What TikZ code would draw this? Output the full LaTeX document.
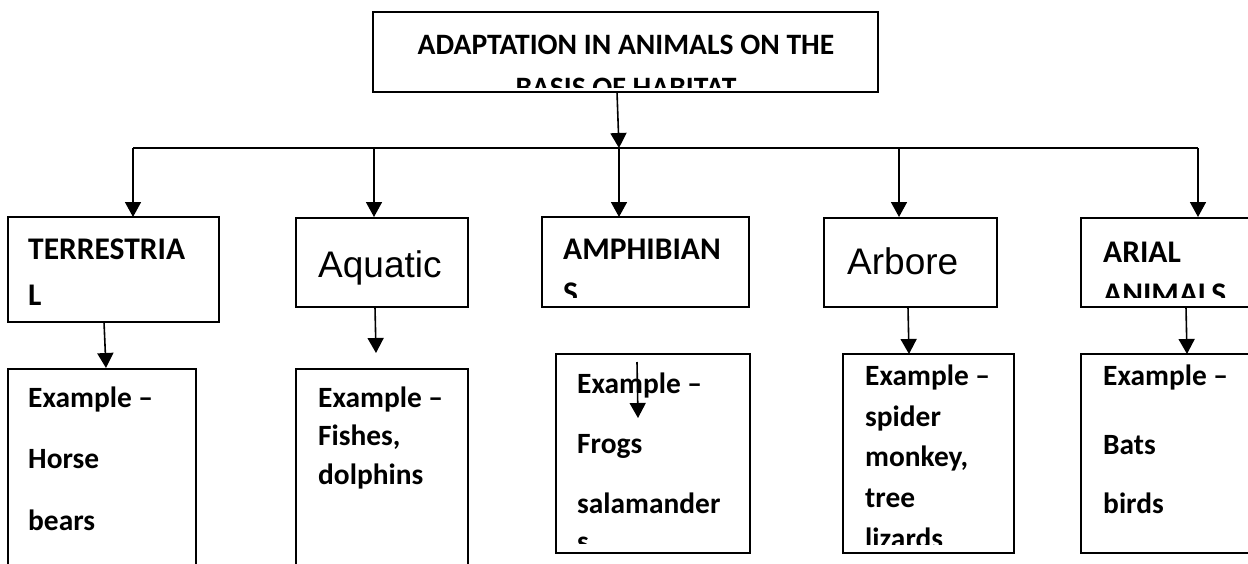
\documentclass[tikz,border=0pt]{standalone}
\usepackage{fontspec}
\newfontfamily\carl{Carlito}
\newfontfamily\arl{Liberation Sans}
\usetikzlibrary{arrows.meta}
\begin{document}
\begin{tikzpicture}[x=1pt,y=-1pt,
  box/.style={draw,line width=1.8pt,inner sep=0pt,outer sep=0pt,anchor=north west},
  conn/.style={line width=1.6pt},
  arr/.style={line width=1.6pt,-{Triangle[length=15pt,width=16pt]}},
  ttl/.style={inner sep=0pt,anchor=base,font=\carl\bfseries\fontsize{29.6}{35}\selectfont},
  hd/.style={inner sep=0pt,anchor=base west,font=\carl\bfseries\fontsize{31.5}{38}\selectfont},
  hdr/.style={inner sep=0pt,anchor=base west,font=\arl\fontsize{37}{44}\selectfont},
  ex/.style={inner sep=0pt,anchor=base west,font=\carl\bfseries\fontsize{29.4}{35}\selectfont}]
\useasboundingbox (0,0) rectangle (1248,563);
\clip (0,0) rectangle (1248,563);
\fill[white] (0,0) rectangle (1248,563);

% boxes
\node[box,minimum width=505pt,minimum height=80pt] (top) at (373,12) {};
\node[box,minimum width=211pt,minimum height=105pt] (terr) at (8,217) {};
\node[box,minimum width=172pt,minimum height=89pt] (aqua) at (296,218) {};
\node[box,minimum width=207pt,minimum height=90pt] (amph) at (542,217) {};
\node[box,minimum width=173pt,minimum height=89pt] (arbo) at (824,218) {};
\node[box,minimum width=180pt,minimum height=89pt] (aria) at (1081,218) {};
\node[box,minimum width=188pt,minimum height=220pt] (terrEx) at (8,369) {};
\node[box,minimum width=172pt,minimum height=220pt] (aquaEx) at (296,369) {};
\node[box,minimum width=194pt,minimum height=199pt] (amphEx) at (556,354) {};
\node[box,minimum width=171pt,minimum height=199pt] (arboEx) at (843,354) {};
\node[box,minimum width=180pt,minimum height=199pt] (ariaEx) at (1081,354) {};

% title text
\node[ttl] (t1) at (626,54) {ADAPTATION IN ANIMALS ON THE};
\begin{scope}
\clip (373,12) rectangle (878,87);
\node[ttl] (t2) at (626,97) {BASIS OF HABITAT};
\end{scope}

% headings
\node[hd] (h1a) at (28,259) {TERRESTRIA};
\node[hd] (h1b) at (28,305) {L};
\node[hdr] (h2) at (318,277) {Aquatic};
\node[hd] (h3a) at (563,259) {AMPHIBIAN};
\begin{scope}
\clip (542,217) rectangle (749,297);
\node[hd] (h3b) at (563,303) {S};
\end{scope}
\node[hdr] (h4) at (847,274) {Arbore};
\node[hd] (h5a) at (1103,262) {ARIAL};
\begin{scope}
\clip (1081,218) rectangle (1260,297);
\node[hd] (h5b) at (1103,304) {ANIMALS};
\end{scope}

% examples
\node[ex] (e1a) at (28,407) {Example –};
\node[ex] (e1b) at (28,468) {Horse};
\node[ex] (e1c) at (28,530) {bears};

\node[ex] (e2a) at (318,407) {Example –};
\node[ex] (e2b) at (318,445) {Fishes,};
\node[ex] (e2c) at (318,484) {dolphins};

\node[ex] (e3a) at (577,393) {Example –};
\node[ex] (e3b) at (577,453) {Frogs};
\node[ex] (e3c) at (577,513) {salamander};
\begin{scope}
\clip (556,354) rectangle (750,543);
\node[ex] (e3d) at (577,551) {s};
\end{scope}

\node[ex] (e4a) at (865,385) {Example –};
\node[ex] (e4b) at (865,426) {spider};
\node[ex] (e4c) at (865,466) {monkey,};
\node[ex] (e4d) at (865,507) {tree};
\begin{scope}
\clip (843,354) rectangle (1014,544);
\node[ex] (e4e) at (865,548) {lizards};
\end{scope}

\node[ex] (e5a) at (1103,385) {Example –};
\node[ex] (e5b) at (1103,454) {Bats};
\node[ex] (e5c) at (1103,513) {birds};

% connector points
\coordinate (c0) at (617,92);
\coordinate (busM) at (619,148);
\coordinate (busL) at (133,148);
\coordinate (bus2) at (374,148);
\coordinate (bus4) at (899,148);
\coordinate (busR) at (1198,148);

\draw[arr] (c0) -- (busM);
\draw[conn] (busL) -- (busR);
\draw[arr] (busL) -- (busL |- terr.north);
\draw[arr] (bus2) -- (bus2 |- terr.north);
\draw[arr] (busM) -- (busM |- amph.north);
\draw[arr] (bus4) -- (bus4 |- terr.north);
\draw[arr] (busR) -- (busR |- terr.north);

\coordinate (d1s) at (104,322);
\coordinate (d1e) at (106,368);
\coordinate (d2s) at (375,307);
\coordinate (d2e) at (376,353);
\coordinate (d3s) at (637,362);
\coordinate (d3e) at (638,418);
\coordinate (d4s) at (908,307);
\coordinate (d4e) at (909,354);
\coordinate (d5s) at (1186,307);
\coordinate (d5e) at (1187,354);
\draw[arr] (d1s) -- (d1e);
\draw[arr] (d2s) -- (d2e);
\draw[arr] (d3s) -- (d3e);
\draw[arr] (d4s) -- (d4e);
\draw[arr] (d5s) -- (d5e);
\end{tikzpicture}
\end{document}
